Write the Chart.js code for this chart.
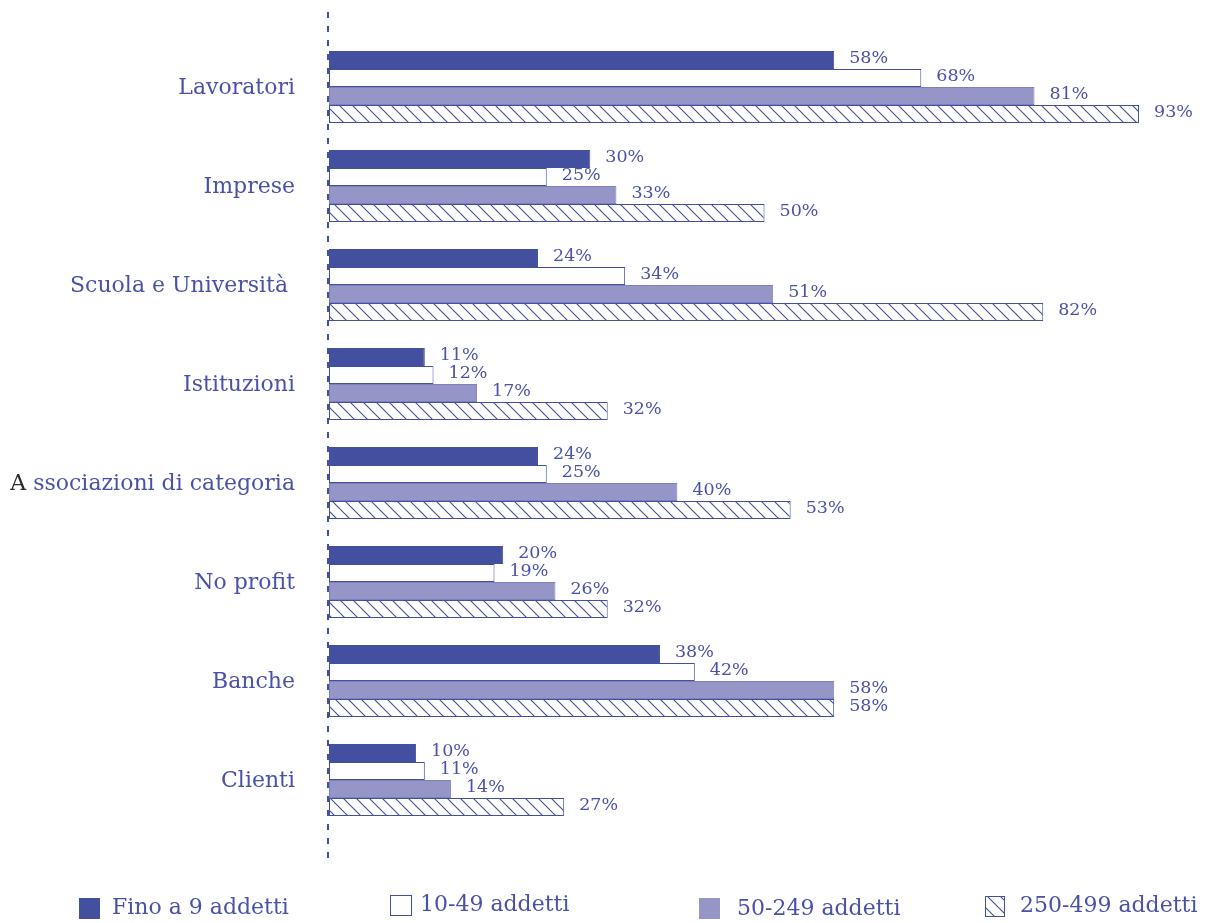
<!DOCTYPE html>
<html>
<head>
<meta charset="utf-8">
<script src="https://cdn.jsdelivr.net/npm/chart.js@4.4.1/dist/chart.umd.min.js"></script>
<style>
  html, body { margin: 0; padding: 0; background: #ffffff; }
  #wrap { width: 1208px; height: 923px; position: relative; }
</style>
</head>
<body>
<div id="wrap"><canvas id="c" width="1208" height="923"></canvas></div>
<script>
// ---- Data ----
const categories = ["Lavoratori", "Imprese", "Scuola e Università ", "Istituzioni", "A ssociazioni di categoria", "No profit", "Banche", "Clienti"];
const seriesNames = ["Fino a 9 addetti", "10-49 addetti", "50-249 addetti", "250-499 addetti"];
const fino9 = [58, 30, 24, 11, 24, 20, 38, 10];
const add10_49 = [68, 25, 34, 12, 25, 19, 42, 11];
const add50_249 = [81, 33, 51, 17, 40, 26, 58, 14];
const add250_499 = [93, 50, 82, 32, 53, 32, 58, 27];

// ---- Styles ----
const DARK = '#4350a0';
const LIGHT = '#9595c8';
const TEXT = '#4a52a8';
const FONT = '"DejaVu Serif", serif';

function makeHatch() {
  const s = 13;
  const pc = document.createElement('canvas');
  pc.width = s; pc.height = s;
  const p = pc.getContext('2d');
  p.fillStyle = '#ffffff';
  p.fillRect(0, 0, s, s);
  p.strokeStyle = DARK;
  p.lineWidth = 1.1;
  p.beginPath();
  p.moveTo(0, 0); p.lineTo(s, s);
  p.moveTo(-2, s - 2); p.lineTo(2, s + 2);
  p.moveTo(s - 2, -2); p.lineTo(s + 2, 2);
  p.stroke();
  return p.createPattern(pc, 'repeat');
}
const ctx0 = document.getElementById('c').getContext('2d');
const hatch = makeHatch();

const fills = [DARK, '#ffffff', LIGHT, hatch];
const borders = [DARK, DARK, '#7d7fbf', DARK];

const dataSets = [fino9, add10_49, add50_249, add250_499].map((d, i) => ({
  label: seriesNames[i],
  data: d,
  backgroundColor: fills[i],
  borderColor: borders[i],
  borderWidth: 1,
  borderSkipped: false,
  categoryPercentage: 0.727,
  barPercentage: 1.0
}));

const decorPlugin = {
  id: 'decor',
  afterDatasetsDraw(chart) {
    const ctx = chart.ctx;
    const xs = chart.scales.x, ys = chart.scales.y;
    ctx.save();
    // dashed axis line
    const x0 = xs.getPixelForValue(0) - 1;
    ctx.strokeStyle = DARK;
    ctx.lineWidth = 2;
    ctx.setLineDash([6, 8]);
    ctx.beginPath();
    ctx.moveTo(x0, 12);
    ctx.lineTo(x0, 866);
    ctx.stroke();
    ctx.setLineDash([]);

    // category labels
    ctx.font = '22px ' + FONT;
    ctx.textBaseline = 'middle';
    categories.forEach((c, i) => {
      const y = ys.getPixelForValue(i) + 1;
      const right = 295;
      if (i === 4) {
        ctx.textAlign = 'left';
        const first = c.charAt(0);
        const rest = c.slice(1);
        const wf = ctx.measureText(first).width;
        const wr = ctx.measureText(rest).width;
        const start = right - wr - wf;
        ctx.fillStyle = '#2b2b2b';
        ctx.fillText(first, start, y);
        ctx.fillStyle = TEXT;
        ctx.fillText(rest, start + wf, y);
      } else {
        ctx.textAlign = 'right';
        ctx.fillStyle = TEXT;
        ctx.fillText(c, right, y);
      }
    });

    // value labels
    ctx.font = '17.5px ' + FONT;
    ctx.textAlign = 'left';
    ctx.fillStyle = TEXT;
    chart.data.datasets.forEach((ds, di) => {
      const meta = chart.getDatasetMeta(di);
      meta.data.forEach((el, j) => {
        ctx.fillText(ds.data[j] + '%', el.x + 15, el.y - 2);
      });
    });

    // legend
    const legendItems = [
      { box: [79, 898, 21, 21], tx: 112, ty: 908 },
      { box: [390, 895, 22, 21], tx: 420, ty: 905 },
      { box: [699, 898, 21, 21], tx: 737, ty: 909 },
      { box: [985, 896, 20, 21], tx: 1020, ty: 906 }
    ];
    ctx.font = '22px ' + FONT;
    legendItems.forEach((it, i) => {
      const [bx, by, bw, bh] = it.box;
      ctx.fillStyle = fills[i];
      ctx.fillRect(bx, by, bw, bh);
      if (i === 1 || i === 3) {
        ctx.strokeStyle = DARK;
        ctx.lineWidth = 1;
        ctx.strokeRect(bx + 0.5, by + 0.5, bw - 1, bh - 1);
      }
      ctx.fillStyle = TEXT;
      ctx.textAlign = 'left';
      ctx.textBaseline = 'middle';
      ctx.fillText(seriesNames[i], it.tx, it.ty);
    });
    ctx.restore();
  }
};

new Chart(ctx0, {
  type: 'bar',
  data: { labels: categories, datasets: dataSets },
  options: {
    indexAxis: 'y',
    responsive: false,
    animation: false,
    layout: { padding: { left: 329, right: 8, top: 37.5, bottom: 93.5 } },
    scales: {
      x: { display: false, min: 0, max: 100 },
      y: { display: false }
    },
    plugins: {
      legend: { display: false },
      tooltip: { enabled: false }
    }
  },
  plugins: [decorPlugin]
});
</script>
</body>
</html>
